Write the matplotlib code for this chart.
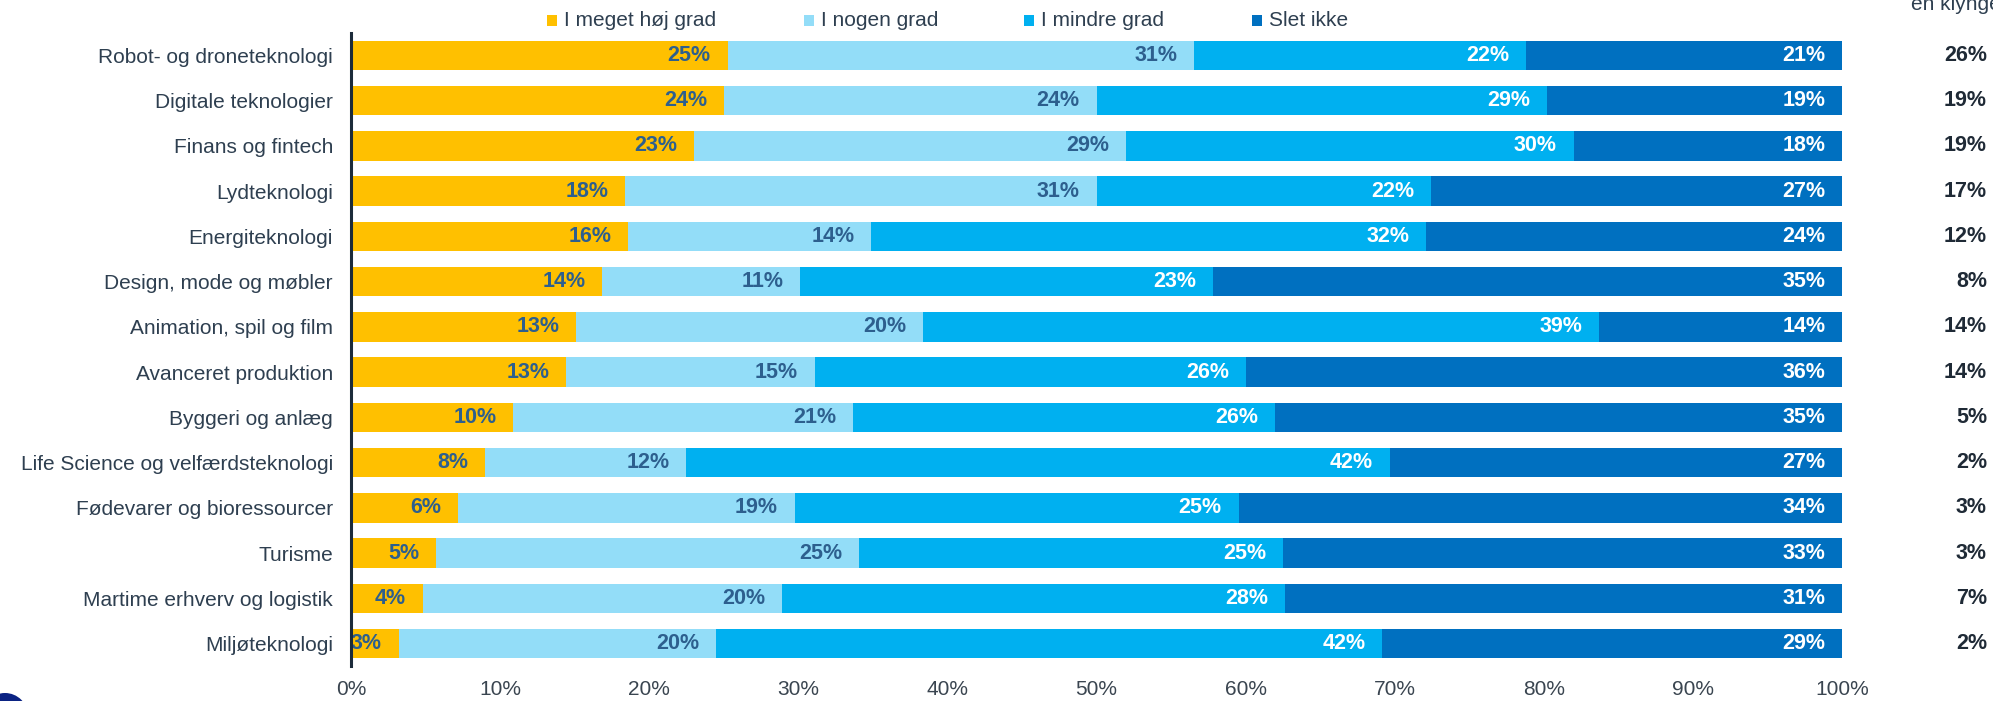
import numpy as np
import matplotlib
matplotlib.use('Agg')
import matplotlib.pyplot as plt
from matplotlib.patches import Rectangle, Ellipse

# Data (values as printed in the chart)
categories = ['Robot- og droneteknologi', 'Digitale teknologier', 'Finans og fintech',
              'Lydteknologi', 'Energiteknologi', 'Design, mode og møbler',
              'Animation, spil og film', 'Avanceret produktion', 'Byggeri og anlæg',
              'Life Science og velfærdsteknologi', 'Fødevarer og bioressourcer',
              'Turisme', 'Martime erhverv og logistik', 'Miljøteknologi']
series = ['I meget høj grad', 'I nogen grad', 'I mindre grad', 'Slet ikke']
hoj = [25, 24, 23, 18, 16, 14, 13, 13, 10, 8, 6, 5, 4, 3]
nogen = [31, 24, 29, 31, 14, 11, 20, 15, 21, 12, 19, 25, 20, 20]
mindre = [22, 29, 30, 22, 32, 23, 39, 26, 26, 42, 25, 25, 28, 42]
slet = [21, 19, 18, 27, 24, 35, 14, 36, 35, 27, 34, 33, 31, 29]
klynge = [26, 19, 19, 17, 12, 8, 14, 14, 5, 2, 3, 3, 7, 2]
xticks = [0, 10, 20, 30, 40, 50, 60, 70, 80, 90, 100]

colors = ['#FFC000', '#93DDF8', '#00B0F0', '#0070C0']
lab_colors = ['#2D5F8E', '#2D5F8E', 'white', 'white']
txt_col = '#2E3F50'

plt.rcParams['font.family'] = ['Liberation Sans', 'DejaVu Sans']

W, H = 1993., 701.
fig = plt.figure(figsize=(W/100., H/100.), dpi=100)
ax = fig.add_axes([351/W, 1-666.2/H, 1491/W, (666.2-32.7)/H])

vals = np.array([hoj, nogen, mindre, slet], dtype=float)
tot = vals.sum(axis=0)
shares = vals/tot*100.
ypos = np.arange(len(categories))

# Stacked bars, normalised to 100%
left = np.zeros(len(categories))
for ii in range(len(series)):
    ax.barh(ypos, shares[ii], left=left, height=0.65, color=colors[ii], linewidth=0)
    for jj in range(len(categories)):
        ax.annotate('{:d}%'.format(int(vals[ii, jj])), xy=(left[jj]+shares[ii, jj], ypos[jj]),
                    xytext=(-12, 0), textcoords='offset points', ha='right', va='center',
                    fontsize=15.5, fontweight='bold', color=lab_colors[ii], zorder=5)
    left = left + shares[ii]

ax.set_xlim(0, 100) ; ax.set_ylim(len(categories)-0.5, -0.5)
ax.set_yticks(ypos) ; ax.set_yticklabels(categories, fontsize=15, color=txt_col)
ax.set_xticks(xticks) ; ax.set_xticklabels(['{}%'.format(x) for x in xticks], fontsize=15, color='#3A4550')
ax.tick_params(axis='both', length=0)
ax.tick_params(axis='y', pad=13)
ax.tick_params(axis='x', pad=10)
for s in ['top', 'right', 'bottom']:
    ax.spines[s].set_visible(False)
ax.spines['left'].set_color('#1C2B3A') ; ax.spines['left'].set_linewidth(2.2)
ax.spines['left'].set_zorder(6)

# Right column: share in a cluster
for jj in range(len(categories)):
    ax.annotate('{:d}%'.format(klynge[jj]), xy=(1, ypos[jj]), xycoords=('axes fraction', 'data'),
                xytext=(145, 0), textcoords='offset pixels', ha='right', va='center',
                fontsize=15.5, fontweight='bold', color='#1F2A36', annotation_clip=False)
fig.text(1911/W, 1-9.5/H, 'en klynge', ha='left', va='baseline', fontsize=15, color=txt_col)

# Legend
leg_x = [547, 804, 1024, 1252]
for ii in range(len(series)):
    fig.add_artist(Rectangle((leg_x[ii]/W, 1-26/H), 10/W, 11/H, transform=fig.transFigure,
                             color=colors[ii], linewidth=0))
    fig.text((leg_x[ii]+17)/W, 1-20.5/H, series[ii], ha='left', va='center',
             fontsize=15, color=txt_col)

# Logo edge in the bottom-left corner
fig.add_artist(Ellipse((5/W, 1-716/H), 46/W, 46/H, transform=fig.transFigure,
                       color='#0B2383', linewidth=0))

fig.savefig('out.png', dpi=100)
